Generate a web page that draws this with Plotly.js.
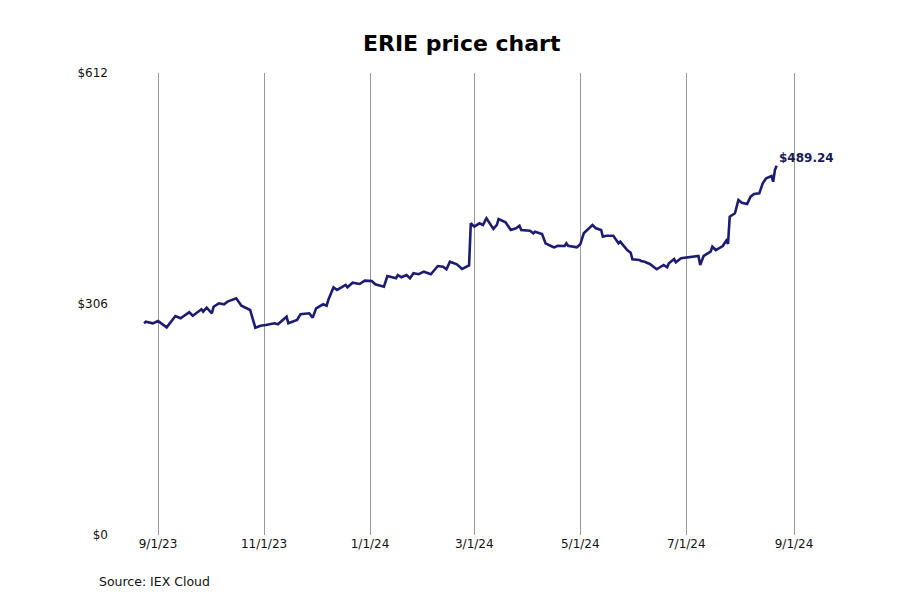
<!DOCTYPE html>
<html lang="en">
  <head>
    <meta charset="UTF-8" />
    <title>ERIE price chart</title>
    <script src="https://cdn.plot.ly/plotly-3.0.1.min.js"></script>
    <style>
      html,
      body {
        margin: 0;
        padding: 0;
        background: #ffffff;
      }
      #chart {
        width: 900px;
        height: 600px;
      }
    </style>
  </head>
  <body>
    <div id="chart"></div>
    <script>
      // closing prices
      const dates = [
        "2023-08-24", "2023-08-25", "2023-08-29", "2023-09-01", "2023-09-06",
        "2023-09-11", "2023-09-14", "2023-09-19", "2023-09-21", "2023-09-26",
        "2023-09-27", "2023-09-29", "2023-10-02", "2023-10-03", "2023-10-06",
        "2023-10-09", "2023-10-11", "2023-10-16", "2023-10-19", "2023-10-23",
        "2023-10-24", "2023-10-27", "2023-10-30", "2023-11-02", "2023-11-07",
        "2023-11-09", "2023-11-14", "2023-11-15", "2023-11-20", "2023-11-22",
        "2023-11-27", "2023-11-29", "2023-12-01", "2023-12-05", "2023-12-07",
        "2023-12-08", "2023-12-11", "2023-12-13", "2023-12-18", "2023-12-19",
        "2023-12-22", "2023-12-26", "2023-12-29", "2024-01-02", "2024-01-04",
        "2024-01-09", "2024-01-11", "2024-01-16", "2024-01-17", "2024-01-19",
        "2024-01-22", "2024-01-24", "2024-01-26", "2024-01-29", "2024-02-01",
        "2024-02-05", "2024-02-09", "2024-02-12", "2024-02-14", "2024-02-16",
        "2024-02-20", "2024-02-23", "2024-02-26", "2024-02-27", "2024-02-28",
        "2024-03-01", "2024-03-04", "2024-03-06", "2024-03-08", "2024-03-12",
        "2024-03-14", "2024-03-15", "2024-03-19", "2024-03-22", "2024-03-25",
        "2024-03-27", "2024-03-28", "2024-04-02", "2024-04-04", "2024-04-05",
        "2024-04-09", "2024-04-11", "2024-04-15", "2024-04-16", "2024-04-18",
        "2024-04-22", "2024-04-23", "2024-04-24", "2024-04-29", "2024-05-01",
        "2024-05-03", "2024-05-08", "2024-05-10", "2024-05-13", "2024-05-14",
        "2024-05-16", "2024-05-20", "2024-05-23", "2024-05-24", "2024-05-28",
        "2024-05-30", "2024-05-31", "2024-06-04", "2024-06-05", "2024-06-07",
        "2024-06-10", "2024-06-14", "2024-06-18", "2024-06-20", "2024-06-21",
        "2024-06-24", "2024-06-25", "2024-06-28", "2024-07-03", "2024-07-08",
        "2024-07-09", "2024-07-11", "2024-07-15", "2024-07-16", "2024-07-18",
        "2024-07-22", "2024-07-24", "2024-07-25", "2024-07-26", "2024-07-29",
        "2024-07-31", "2024-08-02", "2024-08-05", "2024-08-07", "2024-08-09",
        "2024-08-12", "2024-08-14", "2024-08-16", "2024-08-19", "2024-08-20",
        "2024-08-21", "2024-08-22",
      ];
      const prices = [
        280.4, 282.6, 280.4, 283.5, 275.1,
        290.1, 287.1, 295.0, 290.5, 299.0,
        295.8, 301.1, 293.7, 302.4, 306.9,
        305.6, 309.1, 313.6, 303.8, 299.4,
        298.1, 274.6, 277.3, 278.2, 280.4,
        279.1, 289.2, 280.4, 284.8, 292.4,
        293.7, 287.9, 300.3, 305.6, 303.8,
        311.3, 328.1, 324.6, 331.2, 328.1,
        334.2, 332.5, 336.9, 336.5, 332.1,
        328.9, 343.1, 340.1, 344.4, 341.4,
        344.4, 340.1, 346.7, 345.4, 348.8,
        345.4, 356.3, 355.4, 352.0, 362.0,
        358.6, 352.4, 355.4, 357.0, 412.9,
        408.4, 412.9, 410.7, 419.5, 405.4,
        410.7, 418.6, 414.2, 404.0, 406.3,
        409.7, 404.0, 403.1, 399.7, 401.8,
        398.7, 386.4, 381.9, 381.1, 383.2,
        382.8, 386.4, 383.2, 381.1, 385.1,
        399.7, 410.7, 406.3, 404.0, 395.2,
        396.5, 396.5, 386.4, 388.5, 377.5,
        374.0, 365.2, 364.3, 363.0, 362.0,
        359.0, 352.0, 357.7, 354.6, 359.9,
        365.6, 361.3, 366.5, 367.9, 369.6,
        357.7, 369.6, 375.3, 381.9, 377.5,
        382.8, 389.9, 385.5, 421.7, 426.2,
        443.8, 440.2, 438.5, 448.2, 451.7,
        452.6, 465.9, 472.5, 475.6, 468.0,
        483.5, 489.24,
      ];
      const xTicks = [
        "2023-09-01", "2023-11-01", "2024-01-01", "2024-03-01",
        "2024-05-01", "2024-07-01", "2024-09-01",
      ];
      const xTickText = ["9/1/23", "11/1/23", "1/1/24", "3/1/24", "5/1/24", "7/1/24", "9/1/24"];
      const yTicks = [0, 306, 612];
      const yTickText = ["$0", "$306", "$612"];

      const lastPrice = prices[prices.length - 1];
      const lineColor = "#1c1c70";

      const trace = {
        x: dates,
        y: prices,
        type: "scatter",
        mode: "lines",
        line: { color: lineColor, width: 2.6 },
        hoverinfo: "skip",
      };

      const layout = {
        width: 900,
        height: 600,
        margin: { l: 115, r: 60, t: 73, b: 65 },
        paper_bgcolor: "#ffffff",
        plot_bgcolor: "#ffffff",
        font: { family: "DejaVu Sans", size: 12, color: "#111111" },
        showlegend: false,
        title: {
          text: "<b>ERIE price chart</b>",
          font: { family: "DejaVu Sans", size: 22, color: "#000000" },
          xref: "container",
          x: 0.513,
          xanchor: "center",
          yref: "container",
          y: 0.928,
          yanchor: "middle",
        },
        xaxis: {
          type: "date",
          range: ["2023-08-07 06:00", "2024-09-27 11:00"],
          tickmode: "array",
          tickvals: xTicks,
          ticktext: xTickText,
          showgrid: true,
          gridcolor: "#999999",
          gridwidth: 1,
          showline: false,
          zeroline: false,
          ticks: "",
        },
        yaxis: {
          range: [0, 612],
          tickmode: "array",
          tickvals: yTicks,
          ticktext: yTickText,
          showgrid: false,
          showline: false,
          zeroline: false,
          ticks: "",
          ticklabelstandoff: 6,
        },
        annotations: [
          {
            x: dates[dates.length - 1],
            y: lastPrice,
            xref: "x",
            yref: "y",
            text: "<b>$" + lastPrice.toFixed(2) + "</b>",
            showarrow: false,
            xanchor: "left",
            yanchor: "middle",
            xshift: 0,
            yshift: 8,
            font: { family: "DejaVu Sans", size: 12, color: "#1a1a55" },
          },
          {
            x: -0.025,
            y: -0.1017,
            xref: "paper",
            yref: "paper",
            text: "Source: IEX Cloud",
            showarrow: false,
            xanchor: "left",
            yanchor: "middle",
            font: { family: "DejaVu Sans", size: 12.5, color: "#111111" },
          },
        ],
      };

      Plotly.newPlot("chart", [trace], layout, { displayModeBar: false, staticPlot: true });
    </script>
  </body>
</html>
